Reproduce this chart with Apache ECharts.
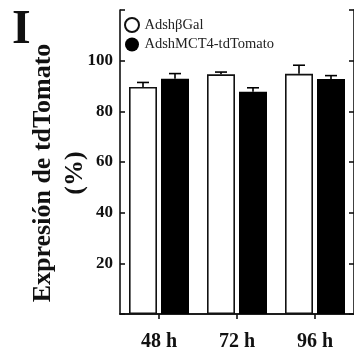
<!DOCTYPE html>
<html>
<head>
<meta charset="utf-8">
<script src="https://cdn.jsdelivr.net/npm/echarts@6/dist/echarts.min.js"></script>
<style>html,body{margin:0;padding:0;background:#fff}#c{width:354px;height:353px}</style>
</head>
<body>
<div id="c"></div>
<script>
const categories = ['48 h', '72 h', '96 h'];
const seriesNames = ['AdshβGal', 'AdshMCT4-tdTomato'];
const galValues = [89.6, 94.6, 94.8];
const galErrors = [1.8, 0.9, 3.4];
const mctValues = [92.9, 87.7, 92.8];
const mctErrors = [2.0, 1.6, 1.3];
const yTicks = [20, 40, 60, 80, 100];
const yTitle = 'Expresión de tdTomato\n(%)';
const panelLabel = 'I';

const serif = '"Liberation Serif", "DejaVu Serif", serif';
const BAR_W = 28, GAP = 4;

function errorSeries(values, errors, side) {
  return {
    type: 'custom',
    xAxisIndex: 0, yAxisIndex: 0,
    z: 5,
    data: values.map((v, i) => [i, v, v + errors[i]]),
    renderItem: function (params, api) {
      const base = api.coord([api.value(0), api.value(1)]);
      const top = api.coord([api.value(0), api.value(2)]);
      const x = base[0] + side * (BAR_W / 2 + GAP / 2);
      const cap = 6;
      const st = { stroke: '#000', lineWidth: 1.6 };
      return {
        type: 'group',
        children: [
          { type: 'line', shape: { x1: x, y1: base[1], x2: x, y2: top[1] }, style: st },
          { type: 'line', shape: { x1: x - cap, y1: top[1], x2: x + cap, y2: top[1] }, style: st }
        ]
      };
    }
  };
}

const chart = echarts.init(document.getElementById('c'), null, { renderer: 'canvas' });
chart.setOption({
  animation: false,
  backgroundColor: '#fff',
  grid: { left: 120, top: 10, width: 238, height: 304 },
  legend: {
    data: [
      { name: seriesNames[0], icon: 'circle' },
      { name: seriesNames[1], icon: 'circle' }
    ],
    orient: 'vertical',
    left: 124, top: 17, padding: 0,
    itemWidth: 15, itemHeight: 14, itemGap: 4,
    textStyle: { fontFamily: serif, fontSize: 14.5, color: '#222' }
  },
  xAxis: [
    {
      type: 'category', data: categories, position: 'bottom',
      axisLine: { lineStyle: { color: '#111', width: 1.6 } },
      axisTick: { show: false },
      axisLabel: { fontFamily: serif, fontWeight: 'bold', fontSize: 20, color: '#111', margin: 18 }
    },
    {
      type: 'category', data: categories, position: 'top',
      axisLine: { lineStyle: { color: '#111', width: 1.6 } },
      axisTick: { show: true, inside: true, length: 5, alignWithLabel: true, lineStyle: { width: 1.6 } },
      axisLabel: { show: false }
    }
  ],
  yAxis: [
    {
      type: 'value', min: 0, max: 120, interval: 20, position: 'left',
      splitLine: { show: false },
      axisLine: { show: true, lineStyle: { color: '#111', width: 1.6 } },
      axisTick: { show: true, inside: true, length: 5, lineStyle: { width: 1.6 } },
      axisLabel: {
        fontFamily: serif, fontWeight: 'bold', fontSize: 17, color: '#111', margin: 7,
        formatter: v => (yTicks.indexOf(v) >= 0 ? String(v) : '')
      }
    },
    {
      type: 'value', min: 0, max: 120, interval: 20, position: 'right',
      splitLine: { show: false },
      axisLine: { show: true, lineStyle: { color: '#111', width: 1.6 } },
      axisTick: { show: true, inside: true, length: 5, lineStyle: { width: 1.6 } },
      axisLabel: { show: false }
    }
  ],
  series: [
    {
      name: seriesNames[0], type: 'bar', data: galValues,
      barWidth: BAR_W, barGap: (GAP / BAR_W * 100) + '%',
      itemStyle: { color: '#fff', borderColor: '#111', borderWidth: 1.6 }
    },
    {
      name: seriesNames[1], type: 'bar', data: mctValues,
      barWidth: BAR_W,
      itemStyle: { color: '#000', borderColor: '#000', borderWidth: 0 }
    },
    errorSeries(galValues, galErrors, -1),
    errorSeries(mctValues, mctErrors, 1)
  ],
  graphic: [
    {
      type: 'text', left: 12, top: 7,
      style: { text: panelLabel, font: 'bold 48px ' + serif, fill: '#111' }
    },
    {
      type: 'text', x: 59, y: 173, rotation: Math.PI / 2,
      style: {
        text: yTitle, font: 'bold 26px ' + serif, fill: '#111',
        textAlign: 'center', textVerticalAlign: 'middle', lineHeight: 32
      }
    }
  ]
});
</script>
</body>
</html>
